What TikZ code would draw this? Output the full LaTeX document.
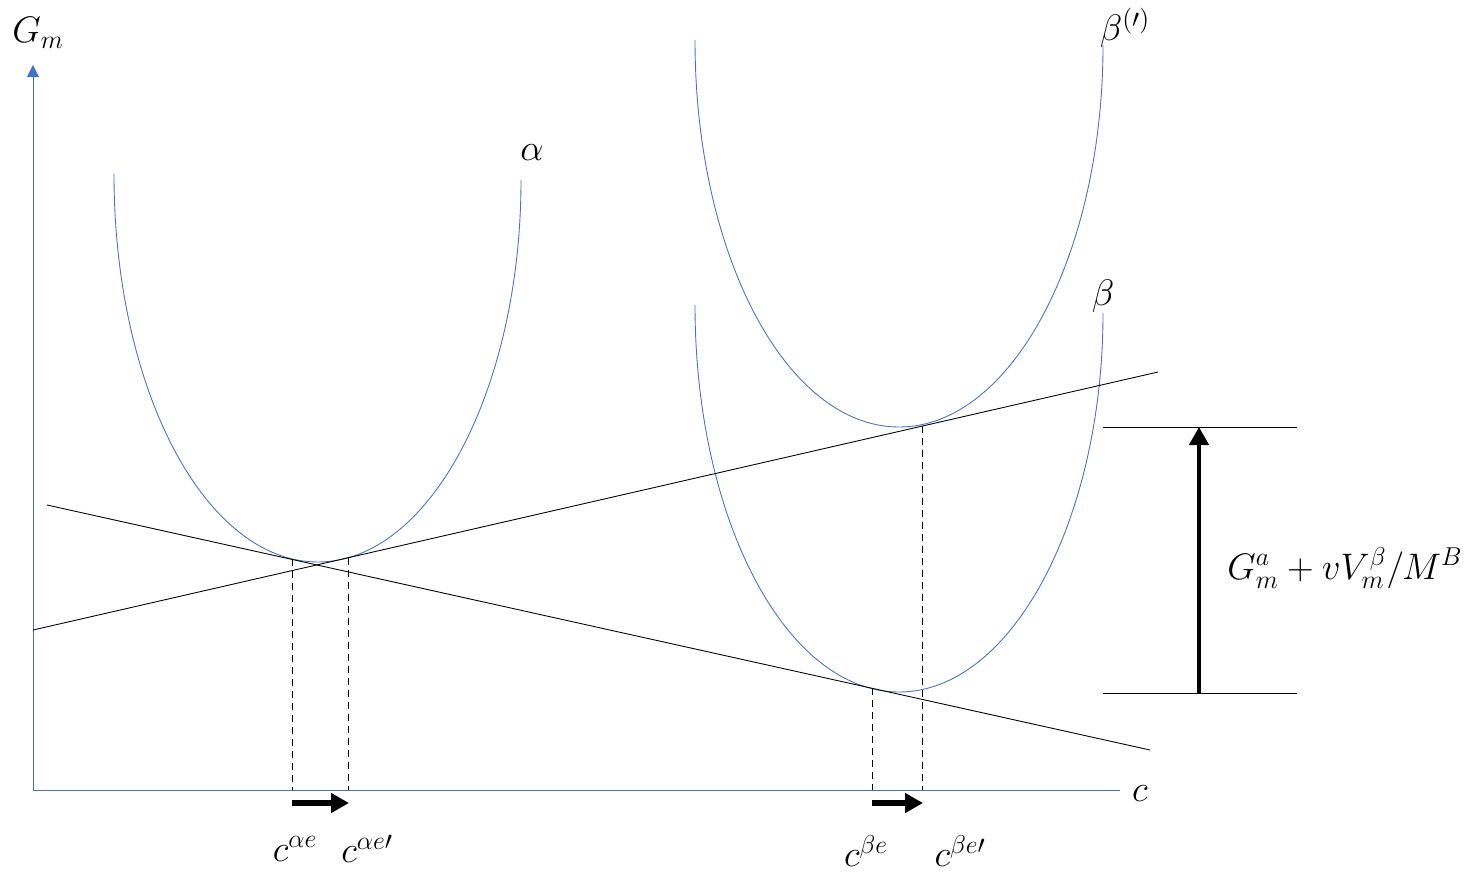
\documentclass[tikz,border=0pt]{standalone}
\usepackage{fix-cm}
\usetikzlibrary{arrows.meta}
\definecolor{curveblue}{RGB}{68,114,196}
\tikzset{
    axis/.style={curveblue, line width=0.5pt},
    curve/.style={curveblue, line width=0.5pt},
    tangent/.style={black, line width=0.5pt},
    guide/.style={black, line width=0.5pt, dash pattern=on 0.14cm off 0.1cm},
    movearrow/.style={black, line width=3.4pt, -{Triangle[length=0.36cm, width=0.38cm]}},
    lbl/.style={font=\fontsize{21}{25}\selectfont, inner sep=0pt}
}
\begin{document}
\begin{tikzpicture}[x=0.02cm, y=-0.02cm]
    \useasboundingbox (0,0) rectangle (1469,876);

    % axes
    \coordinate (O) at (33,790);
    \coordinate (ytop) at (33,65);
    \coordinate (xend) at (1120,790);
    \draw[axis, -{Triangle[length=0.24cm, width=0.24cm]}] (O) -- (ytop);
    \draw[axis] (O) -- (xend);
    \node[lbl] (Gm) at (38,33) {$G_m$};
    \node[lbl] (cax) at (1140,794) {$c$};

    % free energy curves
    \draw[curve] (114,174) .. controls (114,389) and (205,562) .. (318,562)
        .. controls (430,562) and (521,389) .. (521,180);
    \draw[curve] (695,40) .. controls (695,254) and (786,427) .. (899,427)
        .. controls (1012,427) and (1103,254) .. (1103,45);
    \draw[curve] (695,305) .. controls (695,519) and (786,692) .. (899,692)
        .. controls (1012,692) and (1103,519) .. (1103,313);
    \node[lbl] (alpha) at (532,153) {$\alpha$};
    \node[lbl] (betap) at (1125,28) {$\beta^{(\prime)}$};
    \node[lbl] (beta) at (1103,296) {$\beta$};

    % common tangents
    \coordinate (r1) at (33,630);
    \coordinate (r2) at (1158,372);
    \coordinate (f1) at (47,505);
    \coordinate (f2) at (1150,750);
    \draw[tangent] (r1) -- (r2);
    \draw[tangent] (f1) -- (f2);

    % equilibrium compositions
    \coordinate (ae) at (292,559);
    \coordinate (aep) at (348,558);
    \coordinate (be) at (872,688);
    \coordinate (bep) at (922,426);
    \draw[guide] (ae) -- (ae |- O);
    \draw[guide] (aep) -- (aep |- O);
    \draw[guide] (be) -- (be |- O);
    \draw[guide] (bep) -- (bep |- O);
    \draw[movearrow] (292,803) -- (349,803);
    \draw[movearrow] (872,803) -- (923,803);
    \node[lbl] (cae) at (295,849) {$c^{\alpha e}$};
    \node[lbl] (caep) at (367,849) {$c^{\alpha e\prime}$};
    \node[lbl] (cbe) at (866,851) {$c^{\beta e}$};
    \node[lbl] (cbep) at (960,851) {$c^{\beta e\prime}$};

    % energy gap
    \coordinate (hi) at (1103,427);
    \coordinate (lo) at (1103,693);
    \draw[tangent] (hi) -- ++(194,0);
    \draw[tangent] (lo) -- ++(194,0);
    \draw[movearrow, line width=2.6pt] (1199,693) -- (1199,427);
    \node[lbl] (dG) at (1345,568) {$G_m^{a}+vV_m^{\beta}/M^{B}$};
\end{tikzpicture}
\end{document}
